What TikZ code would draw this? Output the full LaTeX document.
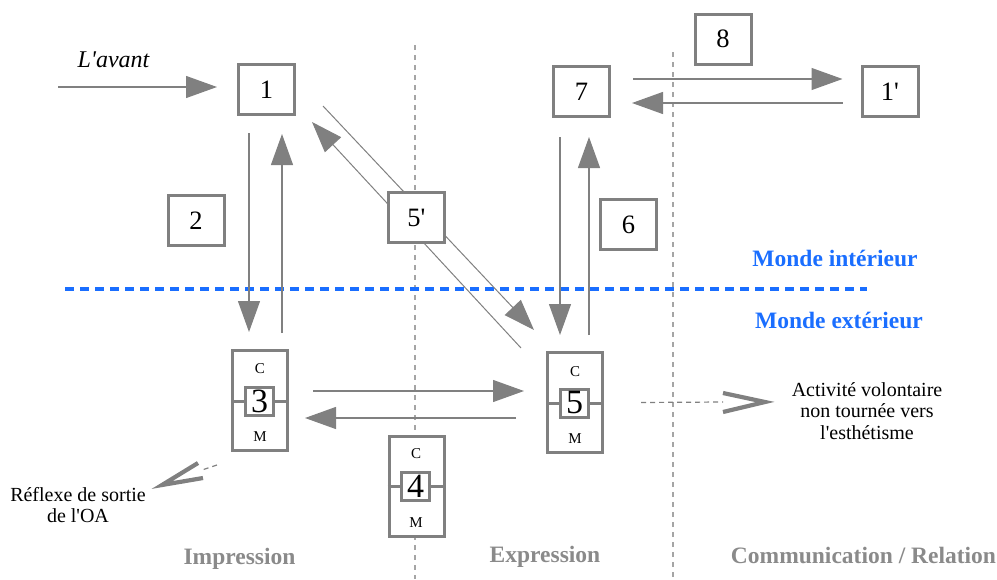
\documentclass[tikz,border=0pt]{standalone}
\usepackage{fontspec}
\setmainfont{Liberation Serif}
\usetikzlibrary{arrows.meta,calc}
\definecolor{bx}{RGB}{128,128,128}
\definecolor{dv}{RGB}{165,165,165}
\definecolor{bl}{RGB}{26,110,255}
\definecolor{lab}{RGB}{138,138,138}
\newcommand{\sq}{\textquotesingle}
\tikzset{
  numbox/.style={draw=bx, line width=3pt, fill=white, minimum width=56pt, minimum height=50pt, inner sep=0pt, font=\fontsize{26.5}{30}\selectfont},
  outbox/.style={draw=bx, line width=3pt, fill=white, minimum width=55pt, minimum height=100pt, inner sep=0pt},
  inbox/.style={draw=bx, line width=3pt, fill=white, minimum width=28pt, minimum height=28pt, inner sep=0pt, font=\fontsize{34}{36}\selectfont},
  cmlab/.style={font=\fontsize{15}{17}\selectfont, inner sep=0pt},
  arr/.style={draw=bx, line width=1.2pt, -{Triangle[length=31pt,width=22pt]}},
  diag/.style={draw=bx, line width=1pt, -{Triangle[length=31pt,width=22pt]}},
  divider/.style={draw=dv, line width=1.2pt, dash pattern=on 5pt off 5pt},
  chev/.style={draw=bx, line width=4.2pt},
  note/.style={font=\fontsize{20}{21.5}\selectfont, align=center, inner sep=0pt},
  zone/.style={font=\bfseries\fontsize{23.5}{26}\selectfont, text=lab, inner sep=0pt},
  monde/.style={font=\bfseries\fontsize{23.5}{26}\selectfont, text=bl, inner sep=0pt},
}
\begin{document}
\begin{tikzpicture}[x=1pt,y=-1pt]
\useasboundingbox (0,0) rectangle (997,579);
% dividers
\draw[divider] (415,45) -- (415,579);
\draw[divider] (673,52) -- (673,579);
\draw[draw=bl, line width=3.5pt, dash pattern=on 9pt off 6pt] (65,289) -- (867,289);

% top boxes
\node[numbox] (b1) at (266.5,89.5) {1};
\node[numbox] (b2) at (196,220.5) {2};
\node[numbox] (b7) at (581.5,91.5) {7};
\node[numbox] (b8) at (723,39) {8};
\node[numbox] (b1p) at (890,91.5) {1\sq};
\node[numbox] (b6) at (628.5,224.5) {6};

% composite boxes 3 and 5
\node[outbox] (b3) at (260,400.5) {};
\node[inbox] (n3) at (259.5,401.5) {3};
\draw[draw=bx, line width=3pt] (b3.west |- n3) -- (n3.west);
\draw[draw=bx, line width=3pt] (n3.east) -- (b3.east |- n3);
\node[cmlab] (c3) at (260,369) {C};
\node[cmlab] (m3) at (260,437) {M};

\node[outbox] (b5) at (575,402.5) {};
\node[inbox] (n5) at (574.5,403) {5};
\draw[draw=bx, line width=3pt] (b5.west |- n5) -- (n5.west);
\draw[draw=bx, line width=3pt] (n5.east) -- (b5.east |- n5);
\node[cmlab] (c5) at (575,372) {C};
\node[cmlab] (m5) at (575,439) {M};

% box 4
\node[outbox] (b4) at (416.5,486) {};
\node[inbox] (n4) at (415.5,486.5) {4};
\draw[draw=bx, line width=3pt] (b4.west |- n4) -- (n4.west);
\draw[draw=bx, line width=3pt] (n4.east) -- (b4.east |- n4);
\node[cmlab] (c4) at (416,454) {C};
\node[cmlab] (m4) at (416,523) {M};

% L'avant
\coordinate (avs) at (58,87);
\node[font=\itshape\fontsize{24}{26}\selectfont, inner sep=0pt] (av) at (113.5,60) {L\sq avant};
\draw[arr] (avs) -- ($(b1.west)+(-20,-2.5)$);

% box 1 <-> box 3
\draw[arr] ($(b1.south -| 249,0)+(0,17)$) -- ($(b3.north -| 249,0)+(0,-17)$);
\draw[arr] ($(b3.north -| 282,0)+(0,-16)$) -- ($(b1.south -| 282,0)+(0,18)$);

% box 7 <-> box 5
\draw[arr] ($(b7.south -| 560,0)+(0,19)$) -- ($(b5.north -| 560,0)+(0,-16)$);
\draw[arr] ($(b5.north -| 589,0)+(0,-16)$) -- ($(b7.south -| 589,0)+(0,19)$);

% box 7 <-> 1'
\draw[arr] ($(b7.east)+(22,-12.5)$) -- ($(b1p.west)+(-18,-12.5)$);
\draw[arr] ($(b1p.west)+(-18,11.5)$) -- ($(b7.east)+(21,11.5)$);

% box 3 <-> box 5
\draw[arr] ($(b3.east)+(24,-9.5)$) -- ($(b5.west)+(-22,-11.5)$);
\draw[arr] ($(b5.west)+(-30,15.5)$) -- ($(b3.east)+(16,17.5)$);

% diagonals via 5'
\draw[diag] ($(b1.east)+(27,16.5)$) -- ($(b5.north west)+(-12,-21)$);
\draw[diag] ($(b5.north west)+(-25,-3)$) -- ($(b1.south east)+(16,6)$);
\node[numbox] (b5p) at (416.5,217.5) {5\sq};

% zones
\node[monde] (mi) at (835,258) {Monde intérieur};
\node[monde] (me) at (839,320) {Monde extérieur};
\node[zone] (zi) at (239.5,559) {Impression};
\node[zone] (ze) at (545,557) {Expression};
\node[zone] (zc) at (863.5,555) {Communication / Relation};

% activity
\node[note] (act) at (867,411) {Activité volontaire\\non tournée vers\\l\sq esthétisme};
\draw[draw=bx, line width=1.2pt, dash pattern=on 5pt off 4pt] ($(b5.east)+(37,0)$) -- (723,402);
\draw[chev] (723,393) -- (765,402) -- (723,412);

% reflexe
\node[note] (ref) at (78,505) {Réflexe de sortie\\de l\sq OA};
\draw[draw=bx, line width=1.2pt, dash pattern=on 5pt off 4pt] (217,465) -- (202,470);
\draw[chev] (198,463) -- (162,485) -- (203,478);
\end{tikzpicture}
\end{document}
